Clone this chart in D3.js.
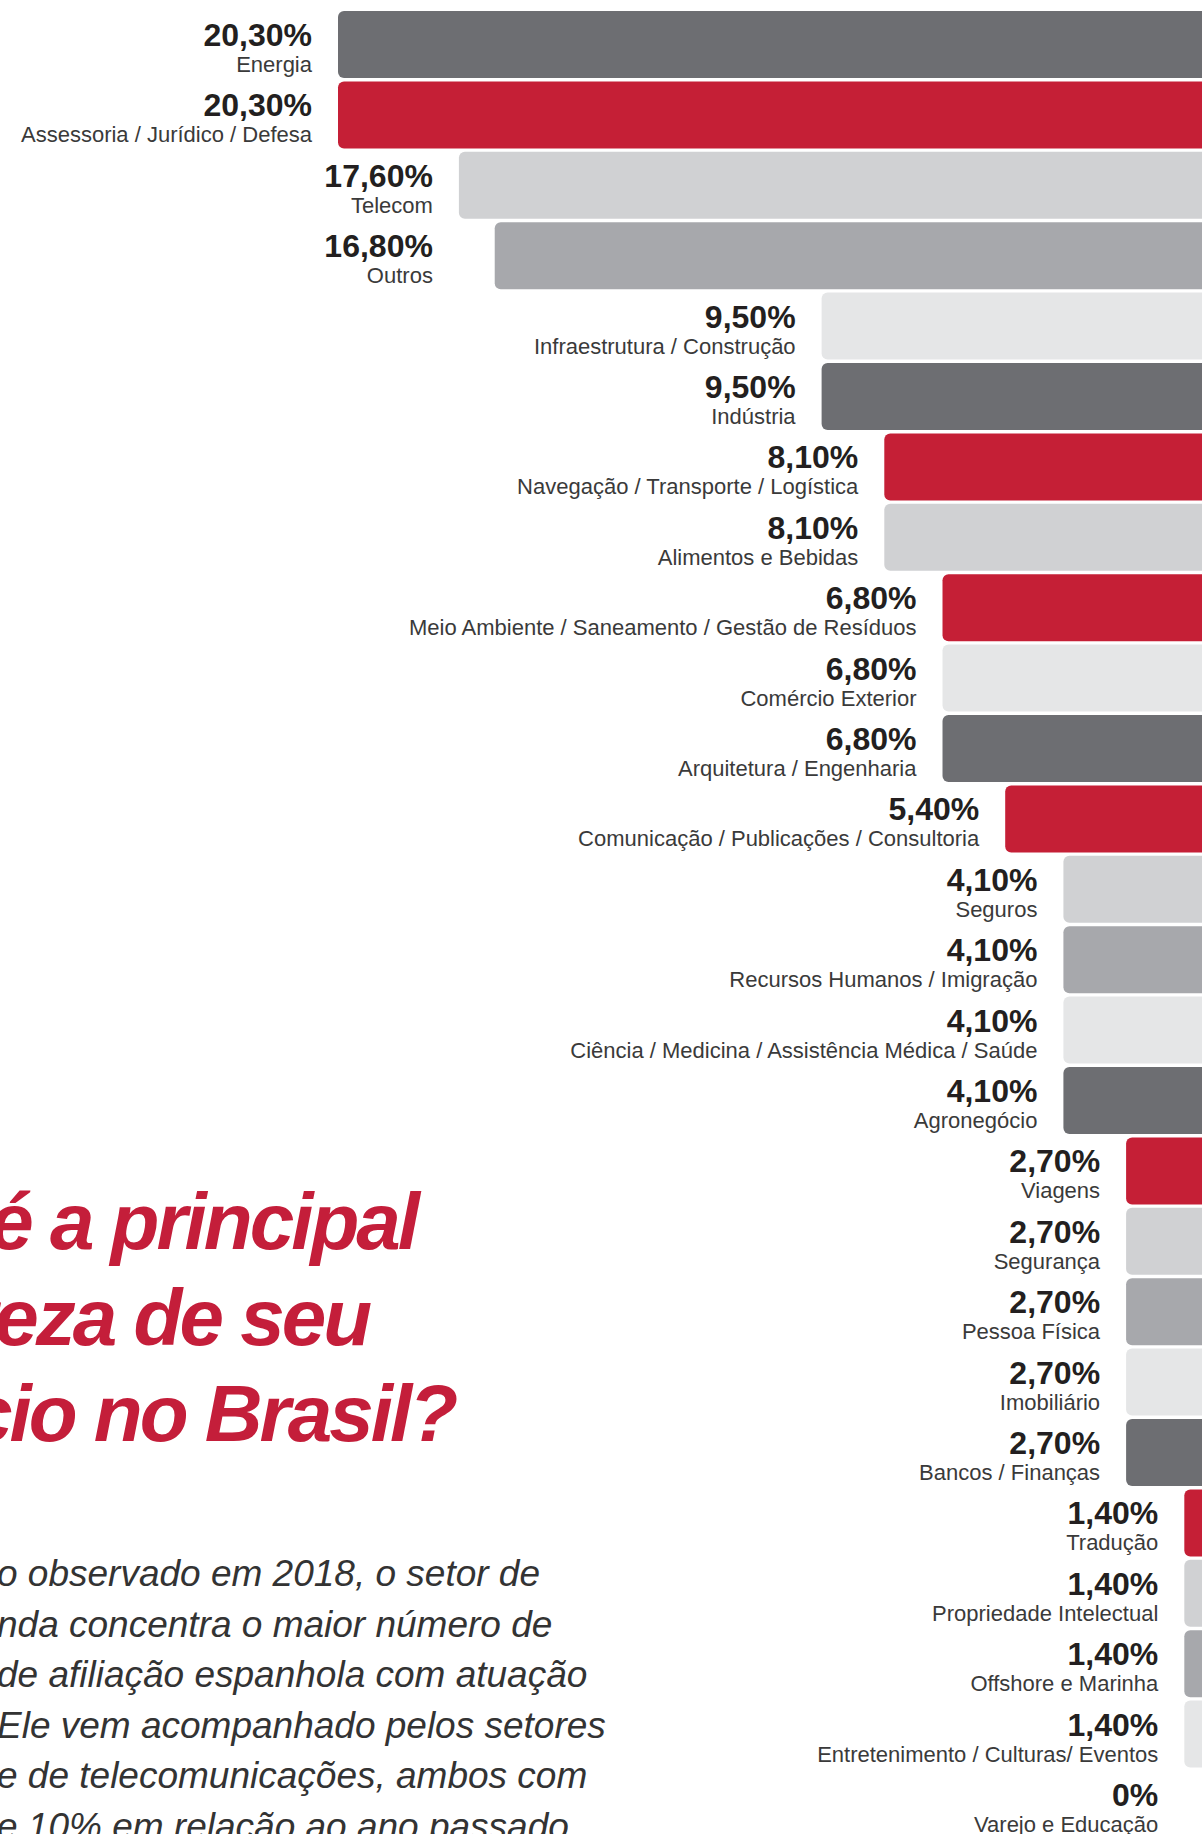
<!DOCTYPE html>
<html>
<head>
<meta charset="utf-8">
<script src="https://cdn.jsdelivr.net/npm/d3@7"></script>
<style>
  html, body { margin: 0; padding: 0; background: #ffffff; }
  svg { display: block; }
</style>
</head>
<body>
<div id="chart"></div>
<script>
// sectors, share of affiliated companies (%)
const categories = [
  "Energia", "Assessoria / Jurídico / Defesa", "Telecom", "Outros",
  "Infraestrutura / Construção", "Indústria", "Navegação / Transporte / Logística",
  "Alimentos e Bebidas", "Meio Ambiente / Saneamento / Gestão de Resíduos",
  "Comércio Exterior", "Arquitetura / Engenharia",
  "Comunicação / Publicações / Consultoria", "Seguros",
  "Recursos Humanos / Imigração", "Ciência / Medicina / Assistência Médica / Saúde",
  "Agronegócio", "Viagens", "Segurança", "Pessoa Física", "Imobiliário",
  "Bancos / Finanças", "Tradução", "Propriedade Intelectual", "Offshore e Marinha",
  "Entretenimento / Culturas/ Eventos", "Varejo e Educação"
];
const values = [20.3, 20.3, 17.6, 16.8, 9.5, 9.5, 8.1, 8.1, 6.8, 6.8, 6.8, 5.4,
  4.1, 4.1, 4.1, 4.1, 2.7, 2.7, 2.7, 2.7, 2.7, 1.4, 1.4, 1.4, 1.4, 0];
const valueLabels = ["20,30%", "20,30%", "17,60%", "16,80%", "9,50%", "9,50%",
  "8,10%", "8,10%", "6,80%", "6,80%", "6,80%", "5,40%", "4,10%", "4,10%", "4,10%",
  "4,10%", "2,70%", "2,70%", "2,70%", "2,70%", "2,70%", "1,40%", "1,40%", "1,40%",
  "1,40%", "0%"];

// visible fragments of the headline and of the text column (cut by the page edge)
const titleLines = ["é a principal", "reza de seu", "cio no Brasil?"];
const bodyLines = [
  "o observado em 2018, o setor de",
  "nda concentra o maior número de",
  "de afiliação espanhola com atuação",
  "Ele vem acompanhado pelos setores",
  "e de telecomunicações, ambos com",
  "e 10% em relação ao ano passado"
];

const DARK = "#6d6e72", RED = "#c51f36", LIGHT = "#d0d1d3", MID = "#a7a8ac", PALE = "#e5e6e7";
const barColors = [DARK, RED, LIGHT, MID, PALE, DARK, RED, LIGHT, RED, PALE, DARK, RED,
  LIGHT, MID, PALE, DARK, RED, LIGHT, MID, PALE, DARK, RED, LIGHT, MID, PALE, PALE];

// rows whose label lines up with the row above instead of their own bar
const alignWithAbove = new Set(["Outros", "Varejo e Educação"]);

const width = 1202, height = 1834;

const data = categories.map((c, i) => ({ name: c, value: values[i], label: valueLabels[i], color: barColors[i] }));

const svg = d3.select("#chart").append("svg")
  .attr("width", width)
  .attr("height", height);

// bars grow leftwards from a baseline just past the right edge
const x = d3.scaleLinear()
  .domain([0, 20.3])
  .range([1247, 338]);

const y = d3.scaleBand()
  .domain(categories)
  .range([9.3, 9.3 + 26 * 70.4])
  .paddingInner(0.048)
  .paddingOuter(0.024);

// label anchor value for each row
data.forEach((d, i) => {
  d.anchor = (alignWithAbove.has(d.name) && i > 0) ? data[i - 1].anchor : d.value;
});

svg.append("g")
  .selectAll("rect")
  .data(data.filter(d => d.value > 0))
  .join("rect")
  .attr("x", d => x(d.value))
  .attr("y", d => y(d.name))
  .attr("width", d => x(0) - x(d.value) + 20)
  .attr("height", y.bandwidth())
  .attr("rx", 6)
  .attr("fill", d => d.color);

const labels = svg.append("g")
  .selectAll("g")
  .data(data)
  .join("g")
  .attr("transform", d => `translate(${x(d.anchor) - 26},${y(d.name)})`)
  .attr("text-anchor", "end");

labels.append("text")
  .attr("y", 35)
  .style("font-family", "'Liberation Sans', Arial, sans-serif")
  .style("font-weight", "bold")
  .style("font-size", "32px")
  .attr("fill", "#231f20")
  .text(d => d.label);

labels.append("text")
  .attr("y", 61)
  .style("font-family", "'Liberation Sans', Arial, sans-serif")
  .style("font-size", "22px")
  .attr("fill", "#3a3a3a")
  .text(d => d.name);

// headline
const titleEnds = [417, 369, 455];
svg.append("g")
  .selectAll("text")
  .data(titleLines)
  .join("text")
  .attr("x", (d, i) => titleEnds[i])
  .attr("y", (d, i) => 1249 + i * 96)
  .attr("text-anchor", "end")
  .style("font-family", "'Liberation Sans', Arial, sans-serif")
  .style("font-weight", "bold")
  .style("font-style", "italic")
  .style("font-size", "80px")
  .style("letter-spacing", "-3px")
  .attr("fill", "#c41e3a")
  .text(d => d);

// body text
svg.append("g")
  .selectAll("text")
  .data(bodyLines)
  .join("text")
  .attr("x", -3)
  .attr("y", (d, i) => 1586 + i * 50.6)
  .style("font-family", "'Liberation Sans', Arial, sans-serif")
  .style("font-style", "italic")
  .style("font-size", "37px")
  .attr("fill", "#333333")
  .text(d => d);
</script>
</body>
</html>
